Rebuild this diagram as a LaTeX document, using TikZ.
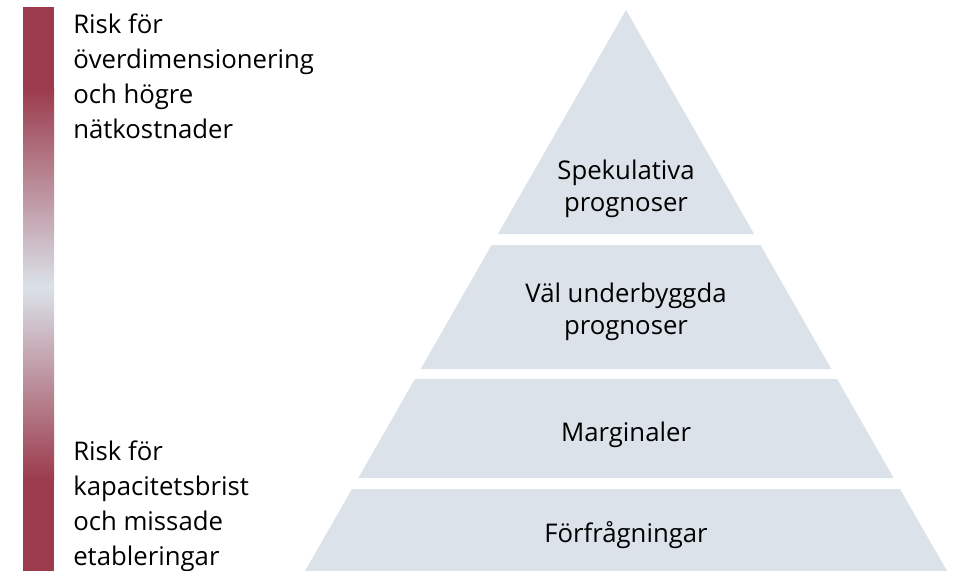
\documentclass[tikz,border=0pt]{standalone}
\usepackage{fontspec}
\setmainfont{Open Sans}
\usetikzlibrary{positioning}

\definecolor{riskred}{RGB}{155,59,77}
\definecolor{riskmauve}{RGB}{170,158,176}
\definecolor{tierblue}{RGB}{219,226,233}

\begin{document}
\begin{tikzpicture}[x=0.75pt, y=-0.75pt,
    tier/.style={fill=tierblue, draw=none},
    risktext/.style={font=\fontsize{19.3}{26.25}\selectfont, align=left, anchor=base west, inner sep=0pt},
    tiertext/.style={font=\fontsize{19.3}{23.5}\selectfont, align=center, anchor=base, inner sep=0pt}]
    \useasboundingbox (0,0) rectangle (960,571);

    % risk bar
    \fill[riskred] (23,7) rectangle (54,89);
    \shade[top color=riskred, middle color=riskmauve, bottom color=tierblue] (23,88) rectangle (54,288);
    \shade[top color=tierblue, middle color=riskmauve, bottom color=riskred] (23,287) rectangle (54,480);
    \fill[riskred] (23,479) rectangle (54,571);

    % base anchor sits on the last line
    \node[risktext] (overdim) at (73,138) {Risk för\\överdimensionering\\och högre\\nätkostnader};
    \node[risktext] (kapbrist) at (73,565) {Risk för\\kapacitetsbrist\\och missade\\etableringar};

    % pyramid
    \fill[tier] (626,10) -- (754.1,234) -- (497.9,234) -- cycle;
    \fill[tier] (491.6,245) -- (760.4,245) -- (831.3,369) -- (420.7,369) -- cycle;
    \fill[tier] (414.9,379) -- (837.1,379) -- (893.7,478) -- (358.3,478) -- cycle;
    \fill[tier] (352,489) -- (900,489) -- (947,571) -- (305,571) -- cycle;

    \node[tiertext] (spek) at (626,211) {Spekulativa\\prognoser};
    \node[tiertext] (valund) at (626,334) {Väl underbyggda\\prognoser};
    \node[tiertext] (marg) at (626,441) {Marginaler};
    \node[tiertext] (forf) at (626,542) {Förfrågningar};
\end{tikzpicture}
\end{document}
